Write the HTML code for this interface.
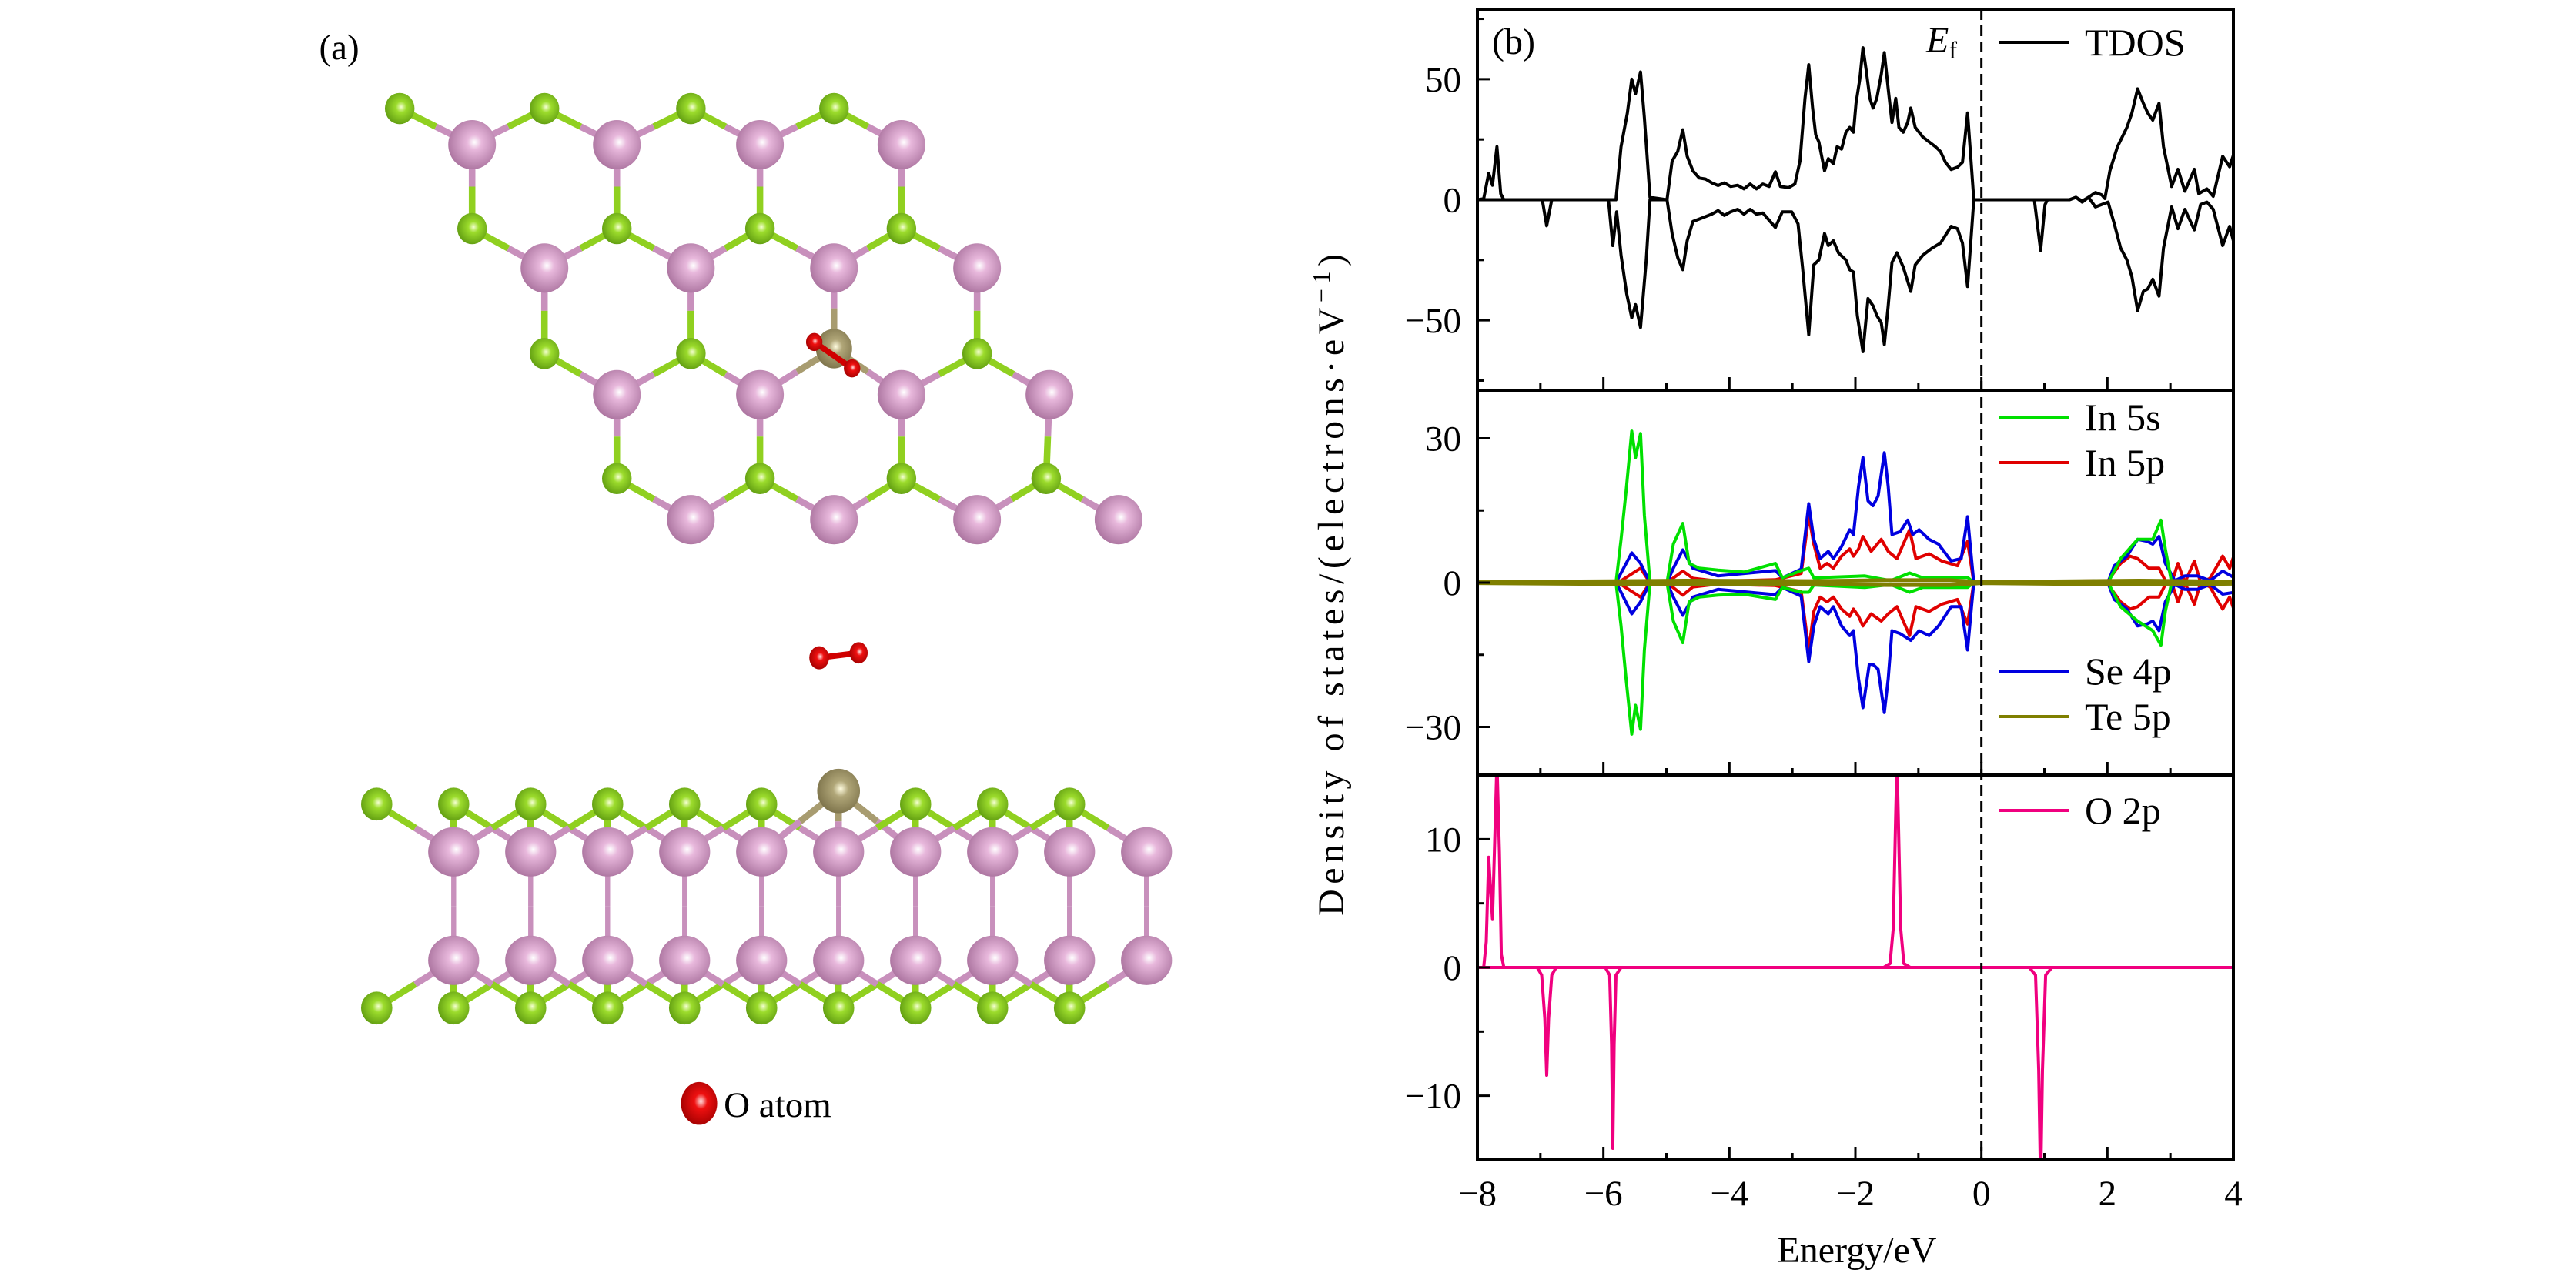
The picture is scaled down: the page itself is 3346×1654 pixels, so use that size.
<!DOCTYPE html>
<html><head><meta charset="utf-8"><style>
html,body{margin:0;padding:0;background:#fff;}
svg{display:block;}
text{font-family:"Liberation Serif",serif;fill:#000;}
</style></head><body>
<svg id="fig" width="3346" height="1654" viewBox="0 0 3346 1654" xmlns="http://www.w3.org/2000/svg">
<defs>
<radialGradient id="gPink" cx="0.55" cy="0.45" r="0.6"><stop offset="0" stop-color="#ffffff"/><stop offset="0.25" stop-color="#e8b8dc"/><stop offset="1" stop-color="#a8709c"/></radialGradient>
<radialGradient id="gGreen" cx="0.55" cy="0.45" r="0.6"><stop offset="0" stop-color="#f4ffd0"/><stop offset="0.3" stop-color="#9cdc2c"/><stop offset="1" stop-color="#5e9a10"/></radialGradient>
<radialGradient id="gTe" cx="0.55" cy="0.45" r="0.6"><stop offset="0" stop-color="#fffce0"/><stop offset="0.3" stop-color="#b0a678"/><stop offset="1" stop-color="#7a7048"/></radialGradient>
<radialGradient id="gRed" cx="0.55" cy="0.45" r="0.6"><stop offset="0" stop-color="#ffe0e0"/><stop offset="0.3" stop-color="#ee1010"/><stop offset="1" stop-color="#a00000"/></radialGradient>
<clipPath id="c1"><rect x="1919" y="12" width="982" height="495"/></clipPath>
<clipPath id="c2"><rect x="1919" y="507" width="982" height="500"/></clipPath>
<clipPath id="c3"><rect x="1919" y="1007" width="982" height="500"/></clipPath>
</defs>
<g id="structure" transform="scale(2.1366)">
<text x="194" y="36" font-size="22">(a)</text>
<g id="topview"></g>
<g id="sideview"></g>
<g>
<ellipse cx="425" cy="671" rx="11" ry="13" fill="url(#gRed)"/>
<text x="440" y="679" font-size="22">O atom</text>
</g>
</g>
<g id="chart"></g>
</svg>
<script>
// ---------- DOS data (energy in eV, states/eV) ----------
const tdosUpE=[-8,-7.9,-7.82,-7.76,-7.69,-7.63,-7.58,-5.8,-5.72,-5.62,-5.55,-5.49,-5.41,-5.35,-5.26,-4.99,-4.91,-4.82,-4.74,-4.67,-4.58,-4.48,-4.38,-4.28,-4.18,-4.08,-3.98,-3.87,-3.77,-3.67,-3.57,-3.47,-3.37,-3.27,-3.19,-3.06,-2.96,-2.88,-2.8,-2.74,-2.68,-2.63,-2.58,-2.49,-2.43,-2.35,-2.29,-2.22,-2.15,-2.09,-2.03,-1.99,-1.93,-1.88,-1.83,-1.77,-1.72,-1.66,-1.59,-1.54,-1.48,-1.42,-1.36,-1.31,-1.24,-1.17,-1.12,-1.05,-0.99,-0.93,-0.83,-0.73,-0.65,-0.57,-0.48,-0.38,-0.3,-0.22,-0.17,-0.12,1.4,1.5,1.6,1.7,1.81,1.91,1.96,2.04,2.16,2.31,2.39,2.48,2.57,2.64,2.72,2.82,2.89,3.02,3.12,3.23,3.38,3.45,3.58,3.68,3.83,3.94,4.02];
const tdosUpV=[0,0.4,11,6,22,2.5,0,0,22,36,50,44,53,34,1,0,16,20,29,18,12,9,8.6,7,5.9,7,5.5,6,4.5,6.5,4.5,6.5,5.5,11.6,5.5,5,6.5,16,42,56,38,27,24,12,17,15,22,21,28,30,28,40,50,63,54,42,38,42,52,61,46,32,42,30,28,32,38,30,28,26,24,22,20,15.5,12.5,13.5,15.5,36,18,0,0,1,-0.5,1,3,2,0.5,12,22,30,36,46,40,36,33,40,22,5.5,12.6,3.5,12.6,2.5,4.5,1.4,18,13.7,20];
const tdosDnE=[-8,-6.97,-6.9,-6.82,-5.92,-5.85,-5.79,-5.72,-5.63,-5.55,-5.49,-5.41,-5.32,-5.26,-4.99,-4.91,-4.82,-4.74,-4.67,-4.58,-4.48,-4.28,-4.18,-4.08,-3.98,-3.87,-3.77,-3.67,-3.57,-3.47,-3.27,-3.16,-3.01,-2.91,-2.84,-2.74,-2.66,-2.58,-2.49,-2.43,-2.35,-2.27,-2.15,-2.09,-2.03,-1.97,-1.88,-1.8,-1.72,-1.66,-1.59,-1.54,-1.48,-1.42,-1.34,-1.24,-1.12,-1.05,-0.93,-0.78,-0.65,-0.48,-0.38,-0.3,-0.22,-0.17,-0.12,0.84,0.94,1.01,1.05,1.4,1.5,1.6,1.7,1.81,2.01,2.11,2.21,2.31,2.39,2.48,2.57,2.64,2.72,2.82,2.89,3.02,3.12,3.23,3.38,3.48,3.58,3.68,3.83,3.94,4.02];
const tdosDnV=[0,0,-10.8,0,0,-19,-5,-23,-39,-49,-43.5,-53,-25,0,0,-14,-24,-29,-17,-9,-8,-6,-4.5,-6.5,-5,-4,-6,-4,-6,-5.5,-11.5,-5,-5,-10,-28,-56,-27,-25,-14,-19,-17,-22,-25,-29,-30,-48,-63,-41,-44,-48,-51,-60,-44,-26,-22,-28,-38,-27,-23,-20,-18,-11,-12,-18,-36,-18,0,0,-21,-2,0,0,1,-1,1,-3,-1,-10,-20,-25,-32,-46,-38,-37,-33,-40,-20,-3,-12,-4,-12.5,-2,-1,-4,-19,-11,-19];

const in5sUpE=[-8,-5.8,-5.72,-5.64,-5.55,-5.49,-5.41,-5.35,-5.26,-4.99,-4.89,-4.74,-4.64,-4.48,-4.18,-3.77,-3.27,-3.16,-2.86,-2.74,-2.66,-1.85,-1.44,-1.14,-0.93,-0.22,-0.12,2.01,2.21,2.48,2.72,2.85,2.92,3.02,4.02];
const in5sUpV=[0,0,9,19,31.5,26,31,14,0,0,8,12.3,4,3,2.6,2.2,4,1,2.5,3,1,1.4,0.4,2,1,1.1,0,0,5,9,9,13,7,0,0];
const in5sDnE=[-8,-5.8,-5.72,-5.64,-5.55,-5.49,-5.41,-5.35,-5.26,-4.99,-4.89,-4.74,-4.64,-4.48,-4.18,-3.77,-3.27,-3.16,-2.86,-2.74,-2.66,-1.85,-1.44,-1.14,-0.93,-0.22,-0.12,2.01,2.21,2.48,2.72,2.85,2.92,3.02,4.02];
const in5sDnV=[0,0,-9,-20,-31.5,-25.5,-30.5,-14,0,0,-8,-12.5,-4,-3,-2.6,-2.4,-3.5,-1,-2,-2,-0.5,-1,-0.4,-2,-1,-1,0,0,-5,-8,-10,-13,-6,0,0];
const se4pUpE=[-8,-5.8,-5.72,-5.55,-5.41,-5.26,-4.99,-4.89,-4.74,-4.58,-4.18,-3.27,-3.16,-2.86,-2.74,-2.66,-2.56,-2.43,-2.35,-2.22,-2.09,-2.03,-1.95,-1.88,-1.8,-1.72,-1.64,-1.54,-1.48,-1.42,-1.29,-1.17,-1.09,-0.99,-0.83,-0.68,-0.48,-0.32,-0.22,-0.15,-0.12,1.44,1.59,1.79,2.01,2.11,2.31,2.48,2.63,2.72,2.82,2.92,3.07,3.23,3.43,3.63,3.83,4.02];
const se4pUpV=[0,0,2,6.2,4,0,0,3,6.8,3,1.4,2.5,1,2.8,16.4,9,5,6.5,5,7.5,11,10,20,26,17,16,18,27,20,10,10.6,13,10,11,9,8,4.5,5,13.7,4,0,0,0,0.4,0.1,3.5,5.5,9,8.6,8,9.6,4,0.4,1.4,1.4,0.4,2.4,1];
const se4pDnE=[-8,-5.8,-5.72,-5.55,-5.41,-5.26,-4.99,-4.89,-4.74,-4.58,-4.18,-3.27,-3.16,-2.86,-2.74,-2.66,-2.56,-2.43,-2.35,-2.22,-2.09,-2.03,-1.95,-1.88,-1.78,-1.72,-1.64,-1.54,-1.48,-1.42,-1.29,-1.12,-0.99,-0.83,-0.68,-0.48,-0.32,-0.22,-0.15,-0.12,1.44,1.59,1.79,2.01,2.11,2.31,2.48,2.63,2.72,2.82,2.92,3.07,3.23,3.43,3.63,3.83,4.02];
const se4pDnV=[0,0,-2,-6.5,-4,0,0,-3,-6.8,-3,-1.4,-2.5,-1,-2.8,-16.4,-9,-5,-6.5,-5,-9,-11,-10,-20,-26,-17,-17,-18,-27,-20,-10,-10.6,-12,-10,-11,-9,-5,-5,-14,-4,0,0,0,-0.4,-0.1,-3.5,-5.5,-9,-8.6,-8,-10,-4,-0.4,-1.4,-1.4,-0.4,-2.4,-2];
const in5pUpE=[-8,-5.8,-5.72,-5.41,-5.26,-4.99,-4.74,-4.58,-4.18,-3.27,-2.86,-2.74,-2.66,-2.56,-2.45,-2.35,-2.22,-2.09,-2.03,-1.95,-1.88,-1.75,-1.59,-1.48,-1.34,-1.14,-1.04,-0.83,-0.63,-0.38,-0.22,-0.12,2.01,2.21,2.36,2.48,2.66,2.82,2.92,3.02,3.12,3.23,3.38,3.48,3.63,3.83,3.94,4.02];
const in5pUpV=[0,0,0.4,3,0,0,2.4,0.9,0.3,0.6,1.9,14,8,3,4,3,5.5,7,5.5,7,9.6,6.5,9,6.5,5,11,5,6,4.5,3.5,8.6,0,0.4,4,5.5,5,3,3,0.4,0,4,0,4.5,0,0.9,5.5,3,6];
const in5pDnE=[-8,-5.8,-5.72,-5.41,-5.26,-4.99,-4.74,-4.58,-4.18,-3.27,-2.86,-2.74,-2.66,-2.56,-2.45,-2.35,-2.22,-2.09,-2.03,-1.95,-1.88,-1.75,-1.59,-1.48,-1.34,-1.14,-1.04,-0.83,-0.63,-0.38,-0.22,-0.12,2.01,2.21,2.36,2.48,2.66,2.82,2.92,3.02,3.12,3.23,3.38,3.48,3.63,3.83,3.94,4.02];
const in5pDnV=[0,0,-0.4,-3,0,0,-2.6,-0.9,-0.3,-0.6,-1.9,-14,-6,-3,-4,-3,-5.5,-7,-5.5,-7,-9,-6.5,-8,-6.5,-5,-11,-5,-6,-4.5,-3.5,-8.6,0,-0.4,-4,-5.5,-5,-3,-3,-0.4,0,-4,0,-4.5,0,-0.9,-5.5,-3,-6];
const te5pUpE=[-8,-5.6,-4.7,-2.7,-1.5,-0.5,0,2.5,4.02];
const te5pUpV=[0.1,0.3,0.4,0.3,0.5,0.5,0.1,0.4,0.2];
const te5pDnE=[-8,-5.6,-4.7,-2.7,-1.5,-0.5,0,2.5,4.02];
const te5pDnV=[-0.1,-0.3,-0.4,-0.3,-0.5,-0.5,-0.1,-0.4,-0.2];

const o2pUpE=[-8,-7.9,-7.86,-7.82,-7.79,-7.76,-7.73,-7.69,-7.65,-7.62,-7.58,-1.55,-1.45,-1.4,-1.36,-1.34,-1.32,-1.28,-1.23,-1.13,4.02];
const o2pUpV=[0,0,2,8.6,6,3.8,9,16,9,1,0,0,0.3,3,12,16,12,3,0.3,0,0];
const o2pDnE=[-8,-7.05,-6.98,-6.93,-6.9,-6.87,-6.82,-6.75,-5.97,-5.9,-5.87,-5.85,-5.83,-5.8,-5.72,-5.5,0.76,0.86,0.91,0.94,0.97,1.02,1.12,4.02];
const o2pDnV=[0,0,-0.6,-4,-8.4,-4,-0.6,0,0,-0.6,-6,-14.1,-6,-0.6,0,0,0,-0.6,-8,-17,-8,-0.6,0,0];

const xTicks=[-8,-6,-4,-2,0,2,4];
const xTickLabels=["\u22128","\u22126","\u22124","\u22122","0","2","4"];
const p1Ticks=[50,0,-50], p1Labels=["50","0","\u221250"];
const p2Ticks=[30,0,-30], p2Labels=["30","0","\u221230"];
const p3Ticks=[10,0,-10], p3Labels=["10","0","\u221210"];

// ---------- axes ----------
const NS="http://www.w3.org/2000/svg";
const XL=1919, XR=2901, EMIN=-8, EMAX=4;
const X=e=>XL+(e-EMIN)*(XR-XL)/(EMAX-EMIN);
const panels=[
 {top:12,bot:507,min:-79,max:79,ticks:p1Ticks,labels:p1Labels,minor:25,clip:"c1",name:"tdos"},
 {top:507,bot:1007,min:-40,max:40,ticks:p2Ticks,labels:p2Labels,minor:15,clip:"c2",name:"pdos"},
 {top:1007,bot:1507,min:-15,max:15,ticks:p3Ticks,labels:p3Labels,minor:5,clip:"c3",name:"o2p"}];
panels.forEach(p=>{p.Y=v=>p.bot-(v-p.min)*(p.bot-p.top)/(p.max-p.min);});
const chart=document.getElementById('chart');
function mk(tag,attrs,parent){const e=document.createElementNS(NS,tag);for(const k in attrs)e.setAttribute(k,attrs[k]);(parent||chart).appendChild(e);return e;}
function series(p,E,V,color,name,w){
  let d="";const n=Math.min(E.length,V.length);
  for(let i=0;i<n;i++){d+=(i?"L":"M")+X(E[i]).toFixed(1)+","+p.Y(V[i]).toFixed(1);}
  const el=mk('path',{d:d,fill:"none",stroke:color,"stroke-width":w||4,"stroke-linejoin":"round","clip-path":"url(#"+p.clip+")"});
  
  
}
const P1=panels[0],P2=panels[1],P3=panels[2];
series(P1,tdosUpE,tdosUpV,"#000","tdos-spin-up-line");
series(P1,tdosDnE,tdosDnV,"#000","tdos-spin-down-line");
series(P2,in5pUpE,in5pUpV,"#e00000","in5p-spin-up-line");
series(P2,in5pDnE,in5pDnV,"#e00000","in5p-spin-down-line");
series(P2,se4pUpE,se4pUpV,"#0000e0","se4p-spin-up-line");
series(P2,se4pDnE,se4pDnV,"#0000e0","se4p-spin-down-line");
series(P2,in5sUpE,in5sUpV,"#00e000","in5s-spin-up-line");
series(P2,in5sDnE,in5sDnV,"#00e000","in5s-spin-down-line");
series(P2,te5pUpE,te5pUpV,"#7f7f00","te5p-spin-up-line",5);
series(P2,te5pDnE,te5pDnV,"#7f7f00","te5p-spin-down-line",5);
series(P3,o2pUpE,o2pUpV,"#f0007f","o2p-spin-up-line",4);
series(P3,o2pDnE,o2pDnV,"#f0007f","o2p-spin-down-line",4);

// Fermi level
const ef=mk('line',{x1:X(0),x2:X(0),y1:12,y2:1507,stroke:"#000","stroke-width":3,"stroke-dasharray":"14,7"});



panels.forEach((p,pi)=>{
  const fr=mk('rect',{x:XL,y:p.top,width:XR-XL,height:p.bot-p.top,fill:"none",stroke:"#000","stroke-width":4});
  
  
  for(let e=EMIN;e<=EMAX;e++){
    const len=(e%2===0)?17:9;
    mk('line',{x1:X(e),x2:X(e),y1:p.bot,y2:p.bot-len,stroke:"#000","stroke-width":3});
  }
  for(let v=Math.ceil(p.min/p.minor)*p.minor;v<=p.max;v+=p.minor){
    const major=p.ticks.indexOf(v)>=0;
    mk('line',{x1:XL,x2:XL+(major?17:9),y1:p.Y(v),y2:p.Y(v),stroke:"#000","stroke-width":3});
  }
  p.ticks.forEach((v,i)=>{
    const t=mk('text',{x:1898,y:p.Y(v)+16,"font-size":47,"text-anchor":"end"});
    t.textContent=p.labels[i];
    
    
  });
});
xTicks.forEach((e,i)=>{
  const t=mk('text',{x:X(e),y:1566,"font-size":47,"text-anchor":"middle"});
  t.textContent=xTickLabels[i];
  
  
});
const xt=mk('text',{x:2412,y:1640,"font-size":48,"text-anchor":"middle"});
xt.textContent="Energy/eV";


const yt=mk('text',{x:0,y:0,"font-size":48,"text-anchor":"middle",transform:"translate(1745,760) rotate(-90)",textLength:"860",lengthAdjust:"spacing"});
yt.innerHTML='Density of states/(electrons\u00b7eV<tspan baseline-shift="super" font-size="32">\u22121</tspan>)';


const pb=mk('text',{x:1938,y:70,"font-size":48});
pb.textContent="(b)";


const eft=mk('text',{x:2502,y:68,"font-size":48,"font-style":"italic"});
eft.innerHTML='E<tspan font-style="normal" font-size="32" dy="8">f</tspan>';



const legendItems=[["TDOS","#000",55],["In 5s","#00e000",542],["In 5p","#e00000",601],["Se 4p","#0000e0",872],["Te 5p","#7f7f00",931],["O 2p","#f0007f",1053]];
legendItems.forEach(it=>{
  const g=mk('g',{});
  
  
  mk('line',{x1:2597,x2:2688,y1:it[2],y2:it[2],stroke:it[1],"stroke-width":4},g);
  const t=mk('text',{x:2708,y:it[2]+17,"font-size":50},g);
  t.textContent=it[0];
});

// ---------- atomic structure (drawn in display units) ----------
const topG=document.getElementById('topview'), sideG=document.getElementById('sideview');
const PINK="#c890bc", GREEN="#90d020", TE="#a89c70";
function bond(g,a,b,ca,cb,w){
  const mx=(a[0]+b[0])/2,my=(a[1]+b[1])/2;
  mk('line',{x1:a[0],y1:a[1],x2:mx,y2:my,stroke:ca,"stroke-width":w},g);
  mk('line',{x1:mx,y1:my,x2:b[0],y2:b[1],stroke:cb,"stroke-width":w},g);
}
function atom(g,p,rx,ry,fill,name){
  const e=mk('ellipse',{cx:p[0],cy:p[1],rx:rx,ry:ry,fill:fill},g);
  
  
}
// top view
const gRows=[[66,[243,331,420,507]],[139,[287,375,462,548]],[215,[331,420,594]],[291,[375,462,548,636]]];
const pRows=[[88,[287,375,462,548]],[163,[331,420,507,594]],[240,[375,462,548,638]],[316,[420,507,594,680]]];
const greens=[],pinks=[];
gRows.forEach(r=>r[1].forEach(x=>greens.push([x,r[0]])));
pRows.forEach(r=>r[1].forEach(x=>pinks.push([x,r[0]])));
const teTop=[507,212];
pinks.forEach(p=>{
  greens.forEach(g=>{
    const dx=g[0]-p[0],dy=g[1]-p[1];
    if((Math.abs(Math.abs(dx)-44)<6&&Math.abs(dy+23)<8)||(Math.abs(dx)<6&&Math.abs(dy-52)<8)) bond(topG,p,g,PINK,GREEN,4);
  });
  const dx=teTop[0]-p[0],dy=teTop[1]-p[1];
  if((Math.abs(Math.abs(dx)-44)<6&&Math.abs(dy+28)<8)||(Math.abs(dx)<6&&Math.abs(dy-49)<8)) bond(topG,p,teTop,PINK,TE,4);
});
pinks.forEach(p=>atom(topG,p,14.5,15,"url(#gPink)","in-atom"));
greens.forEach(g=>atom(topG,g,9,9.5,"url(#gGreen)","se-atom"));
atom(topG,teTop,11,12,"url(#gTe)","te-atom");
mk('line',{x1:495,y1:208,x2:518,y2:224,stroke:"#d00000","stroke-width":3.5},topG);
atom(topG,[495,208],5,5.5,"url(#gRed)","o-atom");
atom(topG,[518,224],5,5.5,"url(#gRed)","o-atom");
// side view
const SX0=229,SDX=46.8;
const gTop=[],gBot=[],pTop=[],pBot=[];
for(let k=0;k<10;k++){
  gTop.push([SX0+SDX*k,489]); gBot.push([SX0+SDX*k,613]);
  pTop.push([SX0+SDX*(k+1),518]); pBot.push([SX0+SDX*(k+1),584]);
}
const teSide=[SX0+SDX*6,481];
for(let k=0;k<10;k++){
  bond(sideG,pTop[k],pBot[k],PINK,PINK,3);
}
gTop.forEach((g,k)=>{
  const gg=(k===6)?teSide:g, col=(k===6)?TE:GREEN;
  pTop.forEach(p=>{const dx=p[0]-g[0]; if(Math.abs(dx)<50) bond(sideG,gg,p,col,PINK,4);});
});
gBot.forEach(g=>{
  pBot.forEach(p=>{const dx=p[0]-g[0]; if(Math.abs(dx)<50) bond(sideG,g,p,GREEN,PINK,4);});
});
pTop.forEach(p=>atom(sideG,p,15.5,15,"url(#gPink)","in-atom"));
pBot.forEach(p=>atom(sideG,p,15.5,15,"url(#gPink)","in-atom"));
gTop.forEach((g,k)=>{ if(k!==6) atom(sideG,g,9.5,10,"url(#gGreen)","se-atom"); });
gBot.forEach(g=>atom(sideG,g,9.5,10,"url(#gGreen)","se-atom"));
atom(sideG,teSide,13,13.5,"url(#gTe)","te-atom");
mk('line',{x1:498,y1:400,x2:522,y2:397,stroke:"#d00000","stroke-width":3.5},sideG);
atom(sideG,[498,400],6,7,"url(#gRed)","o-atom");
atom(sideG,[522,397],5.5,6.5,"url(#gRed)","o-atom");
</script>
</body></html>
